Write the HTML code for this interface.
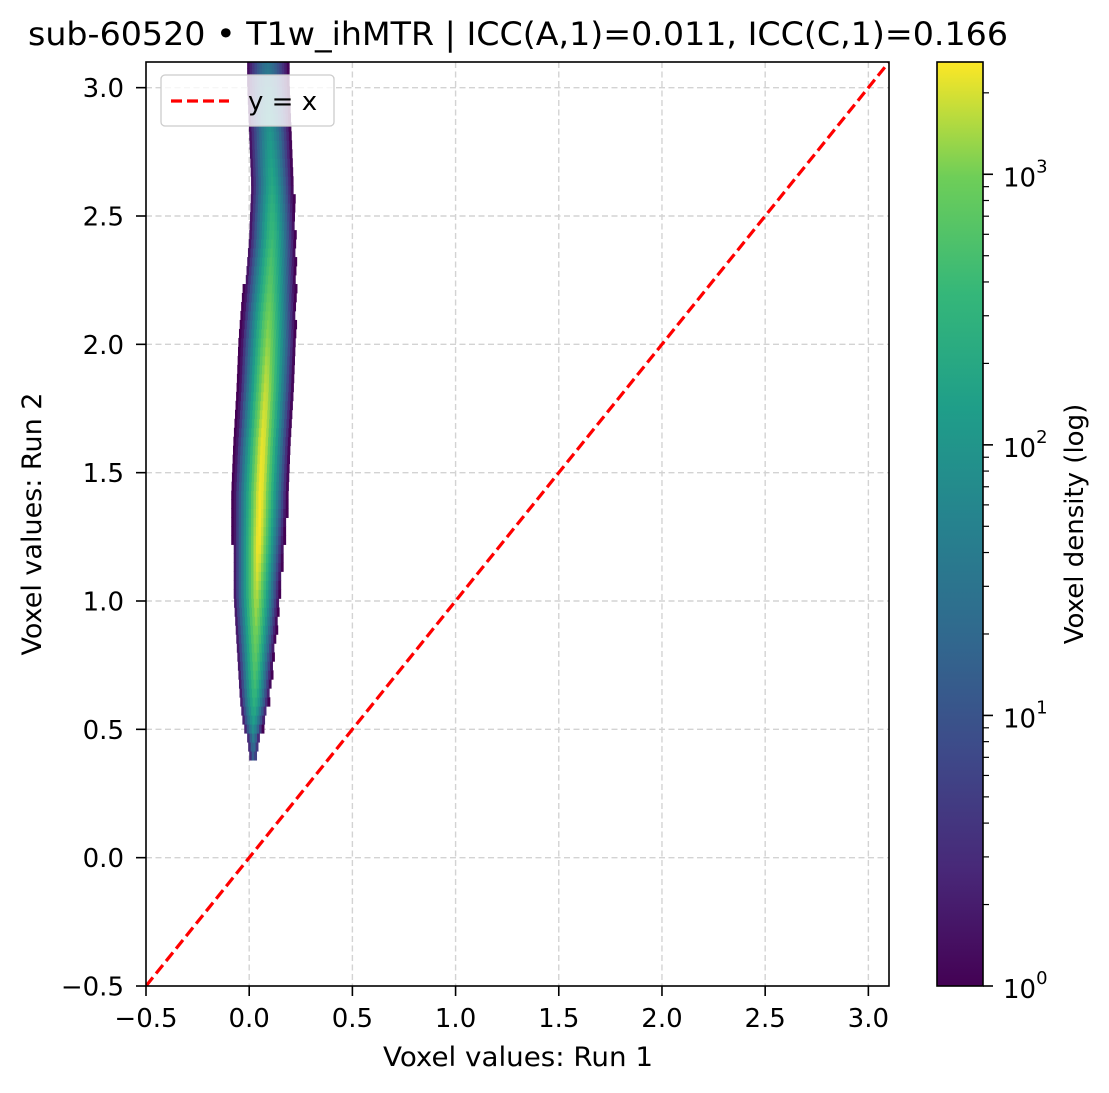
<!DOCTYPE html>
<html><head><meta charset="utf-8"><style>
body{margin:0;background:#fff;}
svg{display:block;font-family:"DejaVu Sans","Liberation Sans",sans-serif;}
</style></head><body>
<svg id="chart" width="1109" height="1093" viewBox="0 0 1109 1093" xmlns="http://www.w3.org/2000/svg">
<defs>
<linearGradient id="viridis" x1="0" y1="1" x2="0" y2="0">
<stop offset="0" stop-color="#440154"/><stop offset="0.125" stop-color="#482878"/><stop offset="0.25" stop-color="#3e4989"/><stop offset="0.375" stop-color="#31688e"/><stop offset="0.5" stop-color="#26828e"/><stop offset="0.625" stop-color="#1f9e89"/><stop offset="0.75" stop-color="#35b779"/><stop offset="0.875" stop-color="#6ece58"/><stop offset="1" stop-color="#fde725"/>
</linearGradient>
<clipPath id="plotclip"><rect x="146" y="62" width="743" height="924"/></clipPath>
</defs>
<text x="518" y="45" text-anchor="middle" font-size="32" textLength="980" lengthAdjust="spacingAndGlyphs">sub-60520 • T1w_ihMTR | ICC(A,1)=0.011, ICC(C,1)=0.166</text>
<g id="grid"></g>
<g id="cells" clip-path="url(#plotclip)"></g>
<line id="idline" stroke="#ff0000" stroke-width="3.2" stroke-dasharray="11,5" clip-path="url(#plotclip)"/>
<rect x="146" y="62" width="743" height="924" fill="none" stroke="#000" stroke-width="1.6"/>
<g id="ticks"></g>
<text x="518" y="1066" text-anchor="middle" font-size="27" textLength="270" lengthAdjust="spacingAndGlyphs">Voxel values: Run 1</text>
<text transform="translate(41,524) rotate(-90)" text-anchor="middle" font-size="27">Voxel values: Run 2</text>
<g>
<rect x="161" y="75" width="173" height="51" rx="4" fill="#fff" fill-opacity="0.8" stroke="#ccc" stroke-width="1.3"/>
<line x1="171" y1="101" x2="229" y2="101" stroke="#ff0000" stroke-width="3.2" stroke-dasharray="11,5"/>
<text x="248" y="110" font-size="26">y = x</text>
</g>
<rect x="937" y="62" width="46" height="924" fill="url(#viridis)" stroke="#000" stroke-width="1.6"/>
<g id="cbticks"></g>
<text transform="translate(1083,524) rotate(-90)" text-anchor="middle" font-size="26">Voxel density (log)</text>
</svg>
<script>
const NS="http://www.w3.org/2000/svg";
const xTicks=[-0.5,0.0,0.5,1.0,1.5,2.0,2.5,3.0];
const yTicks=[-0.5,0.0,0.5,1.0,1.5,2.0,2.5,3.0];
const xTickLabels=["\u22120.5","0.0","0.5","1.0","1.5","2.0","2.5","3.0"];
const yTickLabels=["\u22120.5","0.0","0.5","1.0","1.5","2.0","2.5","3.0"];
// density ridge description per Run-2 value
const rowY=[0.38,0.45,0.5,0.6,0.8,1.0,1.2,1.4,1.6,1.8,2.0,2.2,2.4,2.6,2.8,3.0,3.1];
const rowCenter=[0.02,0.02,0.02,0.025,0.03,0.035,0.045,0.055,0.065,0.08,0.09,0.10,0.11,0.11,0.10,0.09,0.09];
const rowHalfWidth=[0.02,0.03,0.05,0.07,0.09,0.11,0.12,0.13,0.13,0.13,0.13,0.12,0.11,0.10,0.10,0.10,0.10];
const rowPeak=[15,40,100,300,800,1500,2500,2500,2300,1800,1200,700,400,200,100,40,30];
const cbMax=2600;
const cbDecades=[1,10,100,1000];
const cbDecadeLabels=["0","1","2","3"];

const X0=146,X1=889,Y0=986,Y1=62,xmin=-0.5,xmax=3.1,ymin=-0.5,ymax=3.1;
const sx=v=>X0+(v-xmin)/(xmax-xmin)*(X1-X0);
const sy=v=>Y0-(v-ymin)/(ymax-ymin)*(Y0-Y1);
const cbY=c=>986-Math.log10(c)/Math.log10(cbMax)*924;
function mk(tag,attrs,parent){const e=document.createElementNS(NS,tag);for(const k in attrs)e.setAttribute(k,attrs[k]);parent.appendChild(e);return e;}
const stops=[[0,68,1,84],[0.125,72,40,120],[0.25,62,73,137],[0.375,49,104,142],[0.5,38,130,142],[0.625,31,158,137],[0.75,53,183,121],[0.875,110,206,88],[1,253,231,37]];
function viridis(t){t=Math.max(0,Math.min(1,t));for(let i=1;i<stops.length;i++){if(t<=stops[i][0]){const a=stops[i-1],b=stops[i],f=(t-a[0])/(b[0]-a[0]);return `rgb(${Math.round(a[1]+f*(b[1]-a[1]))},${Math.round(a[2]+f*(b[2]-a[2]))},${Math.round(a[3]+f*(b[3]-a[3]))})`;}}return "rgb(253,231,37)";}
function interp(arr,y){if(y<=rowY[0])return arr[0];for(let i=1;i<rowY.length;i++){if(y<=rowY[i]){const f=(y-rowY[i-1])/(rowY[i]-rowY[i-1]);return arr[i-1]+f*(arr[i]-arr[i-1]);}}return arr[arr.length-1];}

const grid=document.getElementById('grid'),ticks=document.getElementById('ticks');
xTicks.forEach((v,i)=>{
 if(i>0){const g=mk('line',{x1:sx(v),x2:sx(v),y1:Y1,y2:Y0,stroke:'#d3d3d3','stroke-width':1.4,'stroke-dasharray':'6,3.5'},grid);
 
 }
 const t=mk('line',{x1:sx(v),x2:sx(v),y1:Y0,y2:Y0+10,stroke:'#000','stroke-width':1.6},ticks);
 
 
 const l=mk('text',{x:sx(v),y:1027,'text-anchor':'middle','font-size':26},ticks);l.textContent=xTickLabels[i];
 
 
});
yTicks.forEach((v,i)=>{
 if(i>0){const g=mk('line',{x1:X0,x2:X1,y1:sy(v),y2:sy(v),stroke:'#d3d3d3','stroke-width':1.4,'stroke-dasharray':'6,3.5'},grid);
 
 }
 const t=mk('line',{x1:X0-10,x2:X0,y1:sy(v),y2:sy(v),stroke:'#000','stroke-width':1.6},ticks);
 
 
 const l=mk('text',{x:X0-22,y:sy(v)+9.5,'text-anchor':'end','font-size':26},ticks);l.textContent=yTickLabels[i];
 
 
});
const idl=document.getElementById('idline');
idl.setAttribute('x1',sx(-0.5));idl.setAttribute('y1',sy(-0.5));idl.setAttribute('x2',sx(3.1));idl.setAttribute('y2',sy(3.1));

// density cells: log-count falls off as |d|^1.5 to zero at the half-width
const cells=document.getElementById('cells');
const dy=0.035,dx=0.012,lmax=Math.log10(cbMax);
for(let y=rowY[0];y<3.15;y+=dy){
 const c=interp(rowCenter,y),hw=interp(rowHalfWidth,y),pk=interp(rowPeak,y);
 const lp=Math.log10(pk);
 for(let x=c-hw-dx;x<=c+hw+dx;x+=dx){
  const u=Math.abs(x+dx/2-c)/hw;
  if(u>1.05)continue;
  const lc=Math.max(0,lp*(1-Math.pow(Math.min(u,1),1.5)));
  const r=mk('rect',{x:sx(x),y:sy(y+dy),width:sx(x+dx)-sx(x)+0.4,height:sy(y)-sy(y+dy)+0.4,fill:viridis(lc/lmax)},cells);
  
  
 }
}
// colorbar ticks
const cb=document.getElementById('cbticks');
cbDecades.forEach((d,i)=>{
 const y=cbY(d);
 const t=mk('line',{x1:983,x2:993,y1:y,y2:y,stroke:'#000','stroke-width':1.6},cb);
 
 
 const l=mk('text',{x:1003,y:y+12,'font-size':26},cb);l.textContent='10';
 const s=mk('tspan',{dy:-14,'font-size':18},l);s.textContent=cbDecadeLabels[i];
 
 
 for(let m=2;m<=9;m++){const v=d*m;if(v>cbMax)break;const yy=cbY(v);
  const mt=mk('line',{x1:983,x2:989,y1:yy,y2:yy,stroke:'#000','stroke-width':1.2},cb);
  
  }
});
</script>
</body></html>
